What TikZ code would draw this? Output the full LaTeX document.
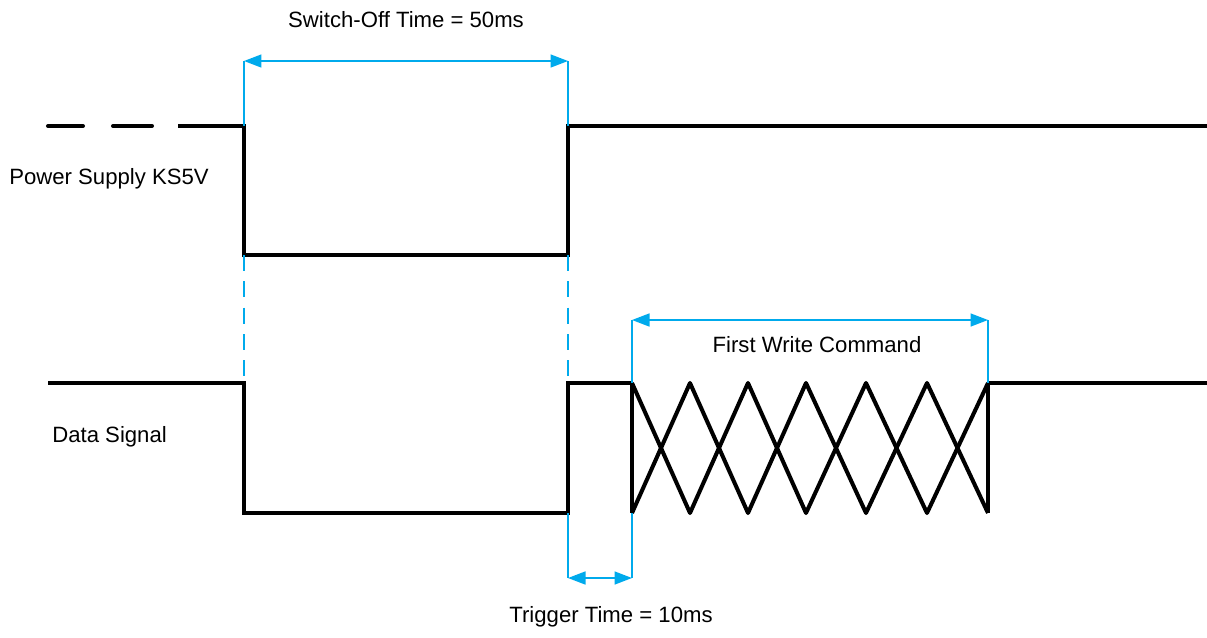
\documentclass[tikz,border=0pt]{standalone}
\usepackage{fontspec}
\setmainfont{Liberation Sans}
\usetikzlibrary{arrows.meta}
\definecolor{dimblue}{RGB}{0,170,236}
\tikzset{
  sig/.style={line width=2.3pt, line join=miter},
  zig/.style={line width=2.3pt, line join=round},
  dim/.style={draw=dimblue, line width=0.9pt},
  dimarrow/.style={dim, {Triangle[length=3.5mm,width=2.6mm]}-{Triangle[length=3.5mm,width=2.6mm]}},
  guide/.style={draw=dimblue, line width=0.9pt, dash pattern=on 9pt off 6pt},
  lbl/.style={font=\fontsize{12.6}{15}\selectfont, inner sep=0pt}
}
\begin{document}
\begin{tikzpicture}[x=0.02cm, y=-0.02cm]
\useasboundingbox (0,0) rectangle (1207,637);
% key coordinates
\coordinate (psA) at (178,126);
\coordinate (psB) at (244,126);
\coordinate (psC) at (244,255);
\coordinate (psD) at (568,255);
\coordinate (psE) at (568,126);
\coordinate (psF) at (1207,126);
\coordinate (dsA) at (48,383);
\coordinate (dsB) at (244,383);
\coordinate (dsC) at (244,513);
\coordinate (dsD) at (568,513);
\coordinate (dsE) at (568,383);
\coordinate (dsF) at (632,383);
\coordinate (dsG) at (632,513);
\coordinate (dsH) at (988,383);
\coordinate (dsI) at (988,513);
\coordinate (dsJ) at (1207,383);
% dimension coordinates
\coordinate (soL) at (244,61);
\coordinate (soR) at (568,61);
\coordinate (fwL) at (632,320);
\coordinate (fwR) at (988,320);
\coordinate (ttL) at (568,578);
\coordinate (ttR) at (632,578);

% power supply dashed start
\draw[sig, line cap=round] (48,126) -- (83,126);
\draw[sig, line cap=round] (113,126) -- (152,126);
% power supply signal
\draw[sig] (psA) -- (psB) -- (psC) -- (psD) -- (psE) -- (psF);

% data signal
\draw[sig] (dsA) -- (dsB) -- (dsC) -- (dsD) -- (dsE) -- (dsF);
\draw[zig] (dsF) -- (dsG);
\draw[zig] (dsF) -- (690,513) -- (748,383) -- (806,513) -- (866,383) -- (927,513) -- (dsH);
\draw[zig] (dsG) -- (690,383) -- (748,513) -- (806,383) -- (866,513) -- (927,383) -- (dsI);
\draw[zig] (dsH) -- (dsI);
\draw[sig] (dsH) -- (dsJ);

% switch-off dimension
\draw[dim] (soL) -- (psB);
\draw[dim] (soR) -- (psE);
\draw[dimarrow] (soL) -- (soR);
\draw[guide] (psC) -- (dsB);
\draw[guide] (psD) -- (dsE);

% first write command dimension
\draw[dim] (fwL) -- (dsF);
\draw[dim] (fwR) -- (dsH);
\draw[dimarrow] (fwL) -- (fwR);

% trigger time dimension
\draw[dim] (dsD) -- (ttL);
\draw[dim] (dsG) -- (ttR);
\draw[dimarrow] (ttL) -- (ttR);

% labels
\node[lbl] (swoff) at (406,20) {Switch-Off Time = 50ms};
\node[lbl, anchor=west] (pslabel) at (9,179) {Power Supply KS5V};
\node[lbl, anchor=west] (dslabel) at (52,437) {Data Signal};
\node[lbl] (fwc) at (817,345) {First Write Command};
\node[lbl] (trig) at (611,617) {Trigger Time = 10ms};
\end{tikzpicture}
\end{document}
